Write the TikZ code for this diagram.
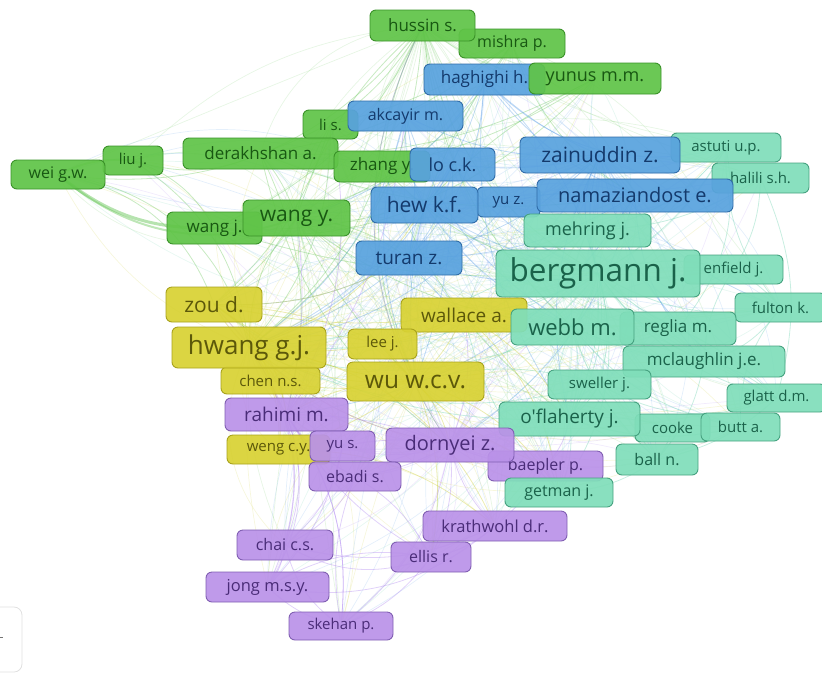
\documentclass[tikz,border=0pt]{standalone}
\usepackage{fontspec}
\newfontfamily\osfont{Open Sans}
\pgfdeclarelayer{background}
\pgfsetlayers{background,main}
\definecolor{gFill}{RGB}{96,196,72}
\definecolor{gLine}{RGB}{58,146,40}
\definecolor{gText}{RGB}{24,88,18}
\definecolor{bFill}{RGB}{88,162,222}
\definecolor{bLine}{RGB}{48,108,168}
\definecolor{bText}{RGB}{20,58,108}
\definecolor{tFill}{RGB}{128,222,186}
\definecolor{tLine}{RGB}{70,162,128}
\definecolor{tText}{RGB}{26,98,74}
\definecolor{yFill}{RGB}{216,210,52}
\definecolor{yLine}{RGB}{168,162,28}
\definecolor{yText}{RGB}{92,88,10}
\definecolor{pFill}{RGB}{186,146,232}
\definecolor{pLine}{RGB}{128,94,178}
\definecolor{pText}{RGB}{74,44,120}
\definecolor{gEdge}{RGB}{110,200,95}
\definecolor{bEdge}{RGB}{95,160,230}
\definecolor{tEdge}{RGB}{110,210,175}
\definecolor{yEdge}{RGB}{205,205,50}
\definecolor{pEdge}{RGB}{175,135,240}
\newcommand\fsz[1]{\osfont\fontsize{#1}{#1}\selectfont}
\tikzset{
  lbl/.style={rounded corners=6pt, line width=0.9pt, inner sep=0pt, fill opacity=0.93, text opacity=1},
  gN/.style={lbl, fill=gFill, draw=gLine, text=gText},
  bN/.style={lbl, fill=bFill, draw=bLine, text=bText},
  tN/.style={lbl, fill=tFill, draw=tLine, text=tText},
  yN/.style={lbl, fill=yFill, draw=yLine, text=yText},
  pN/.style={lbl, fill=pFill, draw=pLine, text=pText},
  edg/.style={line width=0.8pt, draw opacity=0.38},
  faint/.style={line width=0.7pt, draw opacity=0.17},
  eG/.style={edg, draw=gEdge},
  eB/.style={edg, draw=bEdge},
  eT/.style={edg, draw=tEdge},
  eY/.style={edg, draw=yEdge},
  eP/.style={edg, draw=pEdge},
}
\begin{document}
\begin{tikzpicture}[x=1pt,y=-1pt]
\useasboundingbox (0,0) rectangle (822,673);
% UI control bottom-left
\draw[draw=black!12, line width=0.8pt, rounded corners=8pt] (-12,607) rectangle (22,672);
\draw[black!55, line width=0.8pt] (0,637) -- (3,637);
% green
\node[gN, minimum width=106, minimum height=29, font=\fsz{16}] (mishra) at (512,43.5) {mishra p.};
\node[gN, minimum width=105, minimum height=31, font=\fsz{17}] (hussin) at (422.5,25.5) {hussin s.};
\node[bN, minimum width=121, minimum height=31, font=\fsz{17}] (haghighi) at (484.5,79.5) {haghighi h.};
\node[gN, minimum width=132, minimum height=31, font=\fsz{18}] (yunus) at (595,78.5) {yunus m.m.};
\node[gN, minimum width=55, minimum height=29, font=\fsz{15}] (lis) at (330.5,124.5) {li s.};
\node[bN, minimum width=115, minimum height=30, font=\fsz{16}] (akcayir) at (405.5,116) {akcayir m.};
\node[gN, minimum width=155, minimum height=31, font=\fsz{17}] (derakhshan) at (260.5,153.5) {derakhshan a.};
\node[gN, minimum width=96, minimum height=31, font=\fsz{17}] (zhangy) at (382,166.5) {zhang y.};
\node[bN, minimum width=85, minimum height=33, font=\fsz{18}] (lock) at (452.5,164.5) {lo c.k.};
\node[gN, minimum width=60, minimum height=29, font=\fsz{15}] (liuj) at (133,160.5) {liu j.};
\node[gN, minimum width=94, minimum height=29, font=\fsz{16}] (wei) at (58,174.5) {wei g.w.};
\node[gN, minimum width=95, minimum height=32, font=\fsz{17}] (wangj) at (214.5,228) {wang j.};
\node[gN, minimum width=107, minimum height=36, font=\fsz{21}] (wangy) at (296.5,218) {wang y.};
% blue / teal top
\node[tN, minimum width=110, minimum height=29, font=\fsz{15}] (astuti) at (726,147.5) {astuti u.p.};
\node[bN, minimum width=160, minimum height=36, font=\fsz{21}] (zainuddin) at (600,155) {zainuddin z.};
\node[tN, minimum width=97, minimum height=30, font=\fsz{15}] (halili) at (760.5,178) {halili s.h.};
\node[bN, minimum width=63, minimum height=30, font=\fsz{15}] (yuz) at (508.5,202) {yu z.};
\node[bN, minimum width=196, minimum height=33, font=\fsz{20}] (namaz) at (635,195.5) {namaziandost e.};
\node[bN, minimum width=107, minimum height=36, font=\fsz{21}] (hew) at (424.5,205) {hew k.f.};
\node[tN, minimum width=127, minimum height=33, font=\fsz{18}] (mehring) at (587.5,230.5) {mehring j.};
\node[bN, minimum width=106, minimum height=34, font=\fsz{19}] (turan) at (409,258) {turan z.};
% teal
\node[tN, minimum width=99, minimum height=29, font=\fsz{15}] (enfield) at (733.5,269.5) {enfield j.};
\node[tN, minimum width=204, minimum height=47, font=\fsz{31.5}] (bergmann) at (598,273.5) {bergmann j.};
\node[tN, minimum width=91, minimum height=29, font=\fsz{15}] (fulton) at (780.5,307.5) {fulton k.};
\node[yN, minimum width=126, minimum height=34, font=\fsz{19}] (wallace) at (464,315) {wallace a.};
\node[tN, minimum width=116, minimum height=33, font=\fsz{17}] (reglia) at (678,328.5) {reglia m.};
\node[tN, minimum width=123, minimum height=36, font=\fsz{22}] (webb) at (572.5,327) {webb m.};
\node[tN, minimum width=162, minimum height=31, font=\fsz{17}] (mclaughlin) at (704,361.5) {mclaughlin j.e.};
\node[tN, minimum width=103, minimum height=29, font=\fsz{15}] (sweller) at (599.5,384.5) {sweller j.};
\node[tN, minimum width=99, minimum height=28, font=\fsz{15}] (glatt) at (776.5,398) {glatt d.m.};
\node[tN, minimum width=75, minimum height=28, font=\fsz{15}] (cooke) at (672.5,428) {cooke};
\node[tN, minimum width=79, minimum height=28, font=\fsz{15}] (butt) at (740.5,427) {butt a.};
\node[tN, minimum width=141, minimum height=34, font=\fsz{19}] (oflaherty) at (569.5,419) {o'flaherty j.};
\node[tN, minimum width=82, minimum height=31, font=\fsz{16}] (balln) at (657,459.5) {ball n.};
% yellow
\node[yN, minimum width=96, minimum height=35, font=\fsz{21}] (zou) at (214,304.5) {zou d.};
\node[yN, minimum width=99, minimum height=27, font=\fsz{15}] (chen) at (270.5,380.5) {chen n.s.};
\node[yN, minimum width=154, minimum height=41, font=\fsz{26}] (hwang) at (249,347.5) {hwang g.j.};
\node[yN, minimum width=69, minimum height=30, font=\fsz{15}] (leej) at (382.5,344) {lee j.};
\node[yN, minimum width=137, minimum height=39, font=\fsz{24.5}] (wu) at (415.5,381.5) {wu w.c.v.};
\node[yN, minimum width=103, minimum height=29, font=\fsz{15}] (weng) at (278.5,449.5) {weng c.y.};
% purple
\node[pN, minimum width=123, minimum height=33, font=\fsz{19}] (rahimi) at (286.5,414.5) {rahimi m.};
\node[pN, minimum width=65, minimum height=30, font=\fsz{15}] (yus) at (342.5,446) {yu s.};
\node[pN, minimum width=115, minimum height=30, font=\fsz{16}] (baepler) at (545.5,466) {baepler p.};
\node[pN, minimum width=128, minimum height=34, font=\fsz{20}] (dornyei) at (450,445) {dornyei z.};
\node[pN, minimum width=92, minimum height=29, font=\fsz{16}] (ebadi) at (355,476.5) {ebadi s.};
\node[tN, minimum width=108, minimum height=29, font=\fsz{16}] (getman) at (559,492.5) {getman j.};
\node[pN, minimum width=144, minimum height=30, font=\fsz{16.5}] (krath) at (495,526) {krathwohl d.r.};
\node[pN, minimum width=96, minimum height=30, font=\fsz{16}] (chai) at (285,545) {chai c.s.};
\node[pN, minimum width=80, minimum height=30, font=\fsz{16}] (ellis) at (431,557) {ellis r.};
\node[pN, minimum width=123, minimum height=30, font=\fsz{16.5}] (jong) at (267.5,587) {jong m.s.y.};
\node[pN, minimum width=104, minimum height=28, font=\fsz{15}] (skehan) at (341,626) {skehan p.};
\begin{pgfonlayer}{background}
\pgfmathsetseed{7}
% faint hairball from the most connected nodes
\foreach \s/\c in {bergmann/tEdge, hwang/yEdge, wu/yEdge, hew/bEdge, zainuddin/bEdge, dornyei/pEdge, wangy/gEdge, webb/tEdge, hussin/gEdge, turan/bEdge}{
  \foreach \t in {mishra, haghighi, yunus, lis, akcayir, derakhshan, zhangy, lock, liuj, wei, wangj, astuti, halili, yuz, namaz, mehring, enfield, fulton, wallace, reglia, mclaughlin, sweller, glatt, cooke, butt, oflaherty, balln, zou, chen, leej, weng, rahimi, yus, baepler, ebadi, getman, krath, chai, ellis, jong, skehan}{
    \pgfmathsetmacro\bb{rand*40}
    \draw[faint, draw=\c] (\s.center) to[bend left=\bb] (\t.center);
  }
}
\draw[eG, line width=3pt, draw opacity=0.5] (wei.center) to[bend right=20] (wangj.center);
\draw[eG, line width=2pt, draw opacity=0.5] (wei.center) to[bend left=15] (liuj.center);
\draw[eG, line width=2pt, draw opacity=0.45] (wei.center) to[bend right=30] (wangy.center);
\foreach \a/\b/\e in {hussin/wei/30, hussin/wangj/20, hussin/wangy/-15, hussin/derakhshan/20, hussin/zhangy/-10, hussin/yunus/-20, hussin/bergmann/-25, hussin/hwang/25, hussin/webb/-20, mishra/wangy/20, mishra/derakhshan/15, mishra/lis/10, mishra/namaz/-20, yunus/derakhshan/15, yunus/zhangy/10, yunus/wangj/25, yunus/hew/-10, derakhshan/namaz/-15, derakhshan/rahimi/20, derakhshan/dornyei/-20, derakhshan/wangy/10, zhangy/hwang/15, zhangy/wu/-15, zhangy/bergmann/-20, lis/hwang/20, lis/wangy/-10, lis/zou/15, wei/zou/30, liuj/wangj/20, liuj/hwang/25, wangj/wangy/10, wangj/hew/-15, wangj/bergmann/-10, wangy/turan/15, wangy/wu/-10, wangy/webb/-15, wangy/zou/10, wangy/hwang/-20, zhangy/oflaherty/-15, hussin/dornyei/-30, mishra/turan/-10, liuj/derakhshan/-20, wei/hwang/35}
  \draw[eG] (\a.center) to[bend left=\e] (\b.center);
\foreach \a/\b/\e in {haghighi/hew/10, haghighi/namaz/-15, haghighi/turan/20, haghighi/zainuddin/-10, haghighi/oflaherty/-20, haghighi/bergmann/15, akcayir/turan/10, akcayir/hew/-15, akcayir/hwang/20, akcayir/zainuddin/-15, akcayir/webb/-20, lock/hew/10, lock/hwang/20, lock/bergmann/-15, lock/wu/10, lock/zainuddin/-10, lock/turan/15, zainuddin/mehring/-20, zainuddin/bergmann/-15, zainuddin/turan/15, zainuddin/glatt/-25, zainuddin/oflaherty/-20, hew/turan/-10, hew/bergmann/-10, hew/hwang/15, hew/wu/-10, hew/webb/-15, yuz/namaz/10, yuz/hwang/20, namaz/rahimi/25, namaz/dornyei/20, namaz/turan/15, namaz/mclaughlin/-20, turan/hwang/10, turan/bergmann/-15, turan/wallace/-10, turan/zou/15, haghighi/astuti/-30, zainuddin/fulton/-20, namaz/halili/-10, haghighi/wangy/20, akcayir/wu/-20}
  \draw[eB] (\a.center) to[bend left=\e] (\b.center);
\foreach \a/\b/\e in {bergmann/webb/10, bergmann/mclaughlin/-15, bergmann/oflaherty/20, bergmann/sweller/15, bergmann/reglia/-10, bergmann/fulton/-20, bergmann/glatt/-20, bergmann/enfield/15, bergmann/hwang/15, bergmann/wu/20, bergmann/wallace/10, bergmann/getman/25, bergmann/astuti/-15, mehring/webb/-15, mehring/oflaherty/20, mehring/halili/-15, webb/oflaherty/15, webb/mclaughlin/-10, webb/butt/-20, webb/balln/-15, webb/wallace/10, mclaughlin/glatt/15, mclaughlin/fulton/-20, mclaughlin/enfield/15, oflaherty/butt/-15, oflaherty/cooke/10, oflaherty/getman/15, oflaherty/sweller/-10, sweller/wu/-15, sweller/hwang/20, sweller/glatt/-25, glatt/halili/-20, glatt/balln/15, fulton/astuti/20, fulton/enfield/-10, cooke/balln/10, butt/fulton/20, getman/balln/-15, getman/wallace/15, enfield/halili/-15, reglia/glatt/10, mehring/astuti/-20, reglia/astuti/-25, balln/mclaughlin/-15, webb/hwang/20, mehring/hwang/15, oflaherty/zou/20}
  \draw[eT] (\a.center) to[bend left=\e] (\b.center);
\foreach \a/\b/\e in {hwang/zou/10, hwang/wu/-15, hwang/chen/10, hwang/wallace/-15, hwang/leej/15, hwang/weng/20, hwang/rahimi/20, hwang/dornyei/-15, zou/wu/-15, zou/wallace/-10, zou/chen/20, zou/leej/10, wu/leej/10, wu/wallace/-10, wu/dornyei/15, wu/rahimi/-15, wallace/oflaherty/15, wallace/leej/10, chen/weng/15, chen/wu/-10, weng/wu/-10, weng/krath/20, wallace/getman/20, wu/ellis/15, zou/rahimi/25, hwang/krath/30, leej/baepler/-15, zou/turan/-15, hwang/hew/-20, wu/getman/20}
  \draw[eY] (\a.center) to[bend left=\e] (\b.center);
\foreach \a/\b/\e in {rahimi/dornyei/10, rahimi/ebadi/-15, rahimi/chai/20, rahimi/jong/25, rahimi/skehan/20, rahimi/ellis/-15, dornyei/ellis/15, dornyei/skehan/20, dornyei/krath/-15, dornyei/ebadi/10, dornyei/baepler/-10, yus/chai/20, yus/jong/15, yus/dornyei/10, ebadi/ellis/15, ebadi/skehan/-15, ebadi/chai/20, chai/jong/15, chai/skehan/-20, jong/skehan/-15, jong/ellis/20, krath/ellis/15, krath/baepler/-10, krath/chai/20, ellis/skehan/15, baepler/getman/-10, baepler/oflaherty/-15, chai/hwang/-25, jong/hwang/-30, skehan/rahimi/-20, ellis/chai/25, krath/jong/25, dornyei/wallace/-15, rahimi/lis/-20, dornyei/hussin/30, rahimi/akcayir/-15, rahimi/wangy/-10, dornyei/zou/20}
  \draw[eP] (\a.center) to[bend left=\e] (\b.center);
\end{pgfonlayer}
\end{tikzpicture}
\end{document}
